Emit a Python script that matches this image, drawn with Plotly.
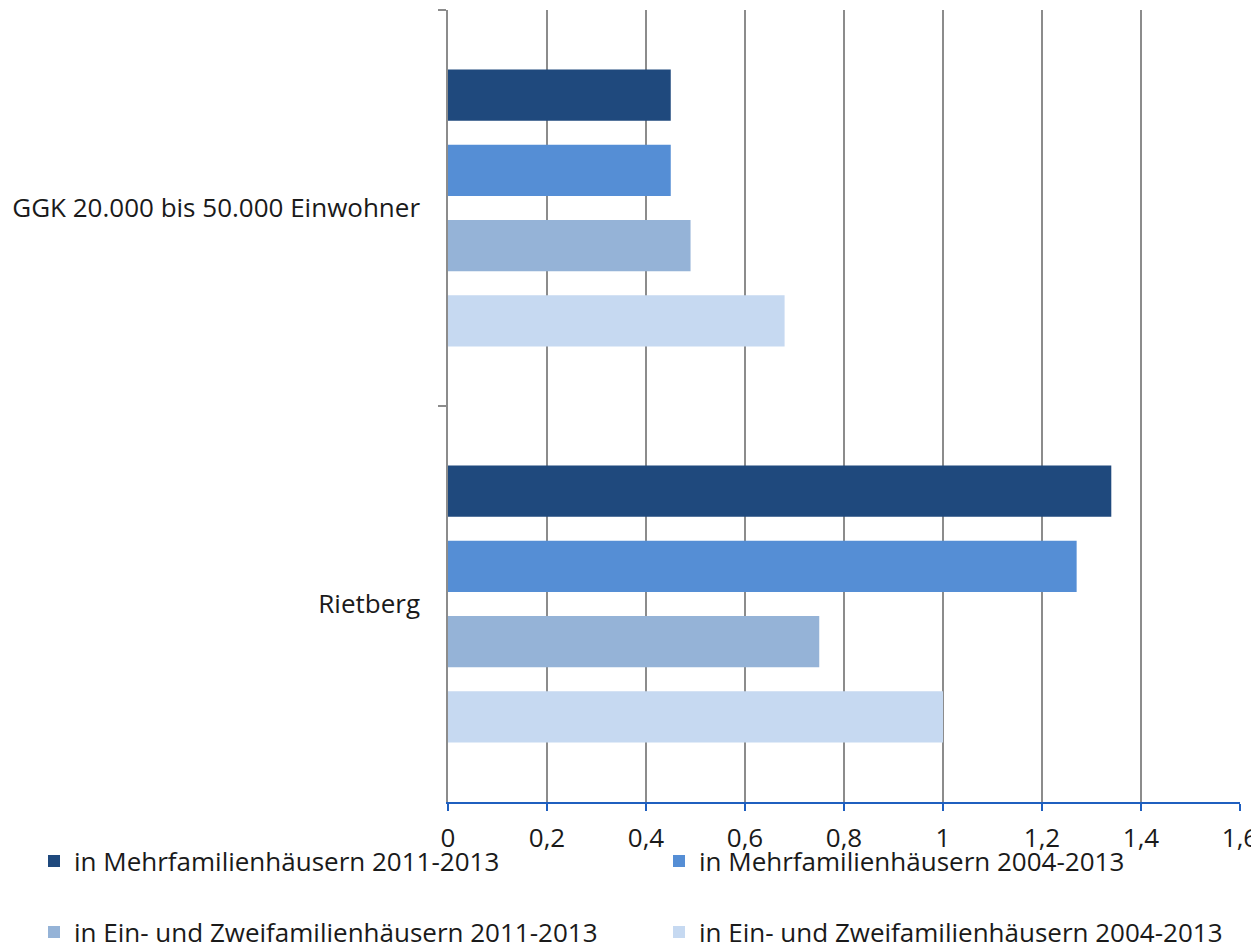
import plotly.graph_objects as go

categories = ["GGK 20.000 bis 50.000 Einwohner", "Rietberg"]
series_names = [
    "in Mehrfamilienhäusern 2011-2013",
    "in Mehrfamilienhäusern 2004-2013",
    "in Ein- und Zweifamilienhäusern 2011-2013",
    "in Ein- und Zweifamilienhäusern 2004-2013",
]
mfh_2011_2013 = [0.45, 1.34]
mfh_2004_2013 = [0.45, 1.27]
ezfh_2011_2013 = [0.49, 0.75]
ezfh_2004_2013 = [0.68, 1.00]
series_values = [mfh_2011_2013, mfh_2004_2013, ezfh_2011_2013, ezfh_2004_2013]
colors = ["#1f497d", "#558ed5", "#95b3d7", "#c6d9f1"]
x_ticks = [0, 0.2, 0.4, 0.6, 0.8, 1.0, 1.2, 1.4, 1.6]

FONT = "Open Sans"
FS = 26
TXT = "#1a1a1a"
fig = go.Figure()
legend_ids = ["legend", "legend2", "legend3", "legend4"]
for name, vals, col, lg in zip(series_names, series_values, colors, legend_ids):
    fig.add_trace(go.Bar(
        y=categories, x=vals, name=name, orientation="h",
        marker=dict(color=col, line=dict(width=0)), legend=lg,
    ))

# page body has an 8px margin, so the figure is drawn 8px smaller/offset
OFF = 8
W, H = 1259 - OFF, 946 - OFF
ml, mt = 448 - OFF, 10 - OFF
pw, ph = 792, 792
mr, mb = W - ml - pw, H - mt - ph

def cx(p):
    return (p - OFF) / W

def cy(p):
    return 1 - (p - OFF) / H

leg_common = dict(orientation="v", xanchor="left", yanchor="middle",
                  xref="container", yref="container",
                  font=dict(family=FONT, size=FS, color=TXT),
                  bgcolor="rgba(0,0,0,0)", itemwidth=30)

fig.update_layout(
    width=W, height=H,
    margin=dict(l=ml, r=mr, t=mt, b=mb, autoexpand=False),
    paper_bgcolor="white", plot_bgcolor="white",
    barmode="group", bargap=0.24, bargroupgap=0.32,
    separators=",.",
    showlegend=True,
    font=dict(family=FONT, size=FS, color=TXT),
    legend=dict(x=cx(34), y=cy(861), **leg_common),
    legend2=dict(x=cx(659), y=cy(861), **leg_common),
    legend3=dict(x=cx(34), y=cy(932), **leg_common),
    legend4=dict(x=cx(659), y=cy(932), **leg_common),
)
fig.update_xaxes(
    range=[0, 1.6], tickvals=x_ticks, tickformat=".1~f",
    showgrid=True, gridcolor="#8c8c8c", gridwidth=1.5, zeroline=False,
    showline=True, linecolor="#1f5fbf", linewidth=2,
    ticks="outside", tickcolor="#1f5fbf", ticklen=7, tickwidth=2,
    ticklabelstandoff=5, automargin=False,
    tickfont=dict(family=FONT, size=FS, color=TXT),
)
fig.update_yaxes(
    type="category", categoryorder="array", categoryarray=categories,
    autorange="reversed", tickson="boundaries",
    showline=True, linecolor="#8c8c8c", linewidth=1.5,
    ticks="outside", tickcolor="#8c8c8c", ticklen=8, tickwidth=1.5,
    showgrid=False, ticklabelstandoff=21, automargin=False,
    tickfont=dict(family=FONT, size=FS, color=TXT),
)

fig.write_html("out.html")
